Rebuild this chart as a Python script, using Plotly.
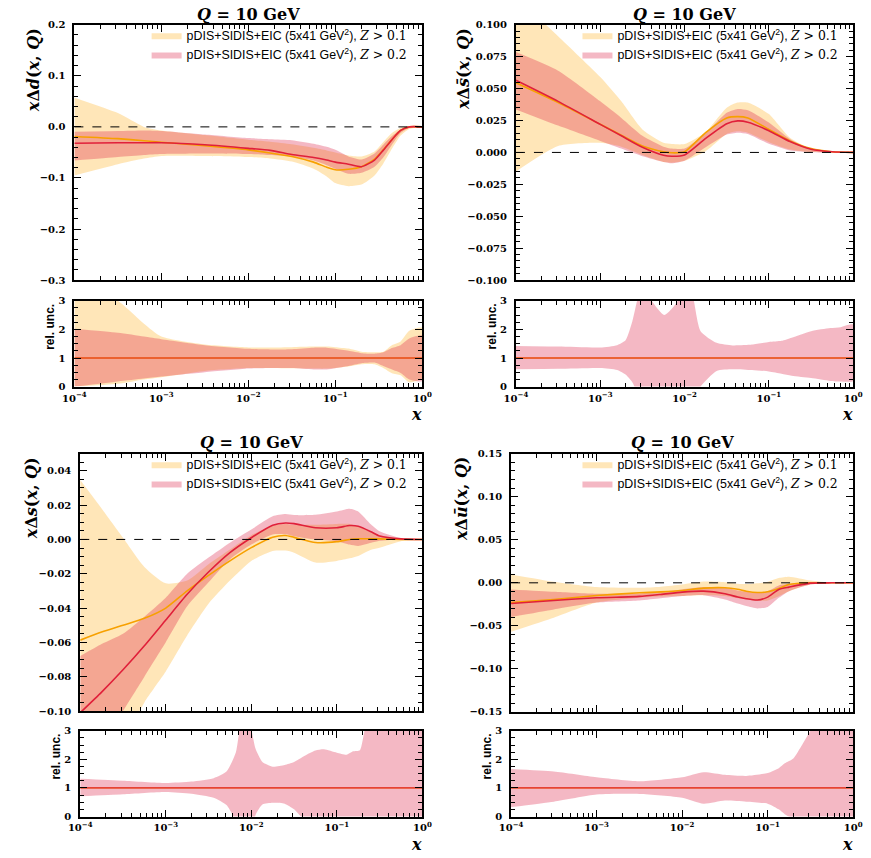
import numpy as np
import plotly.graph_objects as go

W, H = 871, 858

# ---------------- data (log10 x grids and values) ----------------
# Panel 1: x Delta d
LX_D = [-4, -3.5, -3.2, -3, -2.5, -2, -1.75, -1.5, -1.25, -1.1, -1.0, -0.85, -0.7, -0.55, -0.45, -0.35, -0.25, -0.15, 0]
D_Z1_C = [-0.0187, -0.023, -0.027, -0.030, -0.037, -0.045, -0.051, -0.058, -0.069, -0.079, -0.084, -0.083, -0.078, -0.063, -0.045, -0.025, -0.007, 0.0, 0.0]
D_Z1_HI = [0.057, 0.027, 0.0, -0.007, -0.016, -0.025, -0.029, -0.034, -0.041, -0.046, -0.050, -0.056, -0.058, -0.048, -0.030, -0.012, -0.002, 0.001, 0.0]
D_Z1_LO = [-0.095, -0.073, -0.062, -0.057, -0.057, -0.059, -0.062, -0.068, -0.082, -0.097, -0.110, -0.116, -0.113, -0.095, -0.072, -0.043, -0.017, -0.004, 0.0]
D_Z2_C = [-0.032, -0.031, -0.031, -0.031, -0.035, -0.042, -0.046, -0.054, -0.060, -0.065, -0.069, -0.073, -0.078, -0.065, -0.046, -0.025, -0.007, 0.0, 0.0]
D_Z2_HI = [-0.0095, -0.008, -0.007, -0.008, -0.015, -0.022, -0.024, -0.026, -0.033, -0.039, -0.045, -0.058, -0.064, -0.052, -0.035, -0.018, -0.005, 0.0, 0.0]
D_Z2_LO = [-0.066, -0.059, -0.055, -0.053, -0.052, -0.053, -0.055, -0.058, -0.066, -0.075, -0.082, -0.092, -0.090, -0.078, -0.060, -0.035, -0.012, -0.002, 0.0]
D_R1_HI = [3.8, 3.0, 2.2, 1.75, 1.47, 1.37, 1.37, 1.38, 1.40, 1.40, 1.38, 1.33, 1.22, 1.20, 1.22, 1.45, 1.58, 1.95, 2.05]
D_R1_LO = [0.0, 0.1, 0.25, 0.33, 0.55, 0.65, 0.65, 0.64, 0.63, 0.63, 0.65, 0.70, 0.78, 0.78, 0.65, 0.47, 0.40, 0.15, 0.30]
D_R2_HI = [2.02, 1.88, 1.75, 1.66, 1.45, 1.32, 1.30, 1.31, 1.36, 1.36, 1.32, 1.25, 1.17, 1.15, 1.20, 1.35, 1.45, 1.68, 1.78]
D_R2_LO = [0.0, 0.18, 0.28, 0.35, 0.50, 0.63, 0.65, 0.65, 0.60, 0.60, 0.64, 0.72, 0.82, 0.84, 0.72, 0.60, 0.48, 0.25, 0.20]

# Panel 2: x Delta sbar
LX_SB = [-4, -3.5, -3, -2.75, -2.5, -2.25, -2.15, -2, -1.75, -1.5, -1.37, -1.25, -1, -0.75, -0.5, -0.25, 0]
SB_Z1_C = [0.0545, 0.039, 0.022, 0.0135, 0.005, 0.0005, -0.0003, 0.0005, 0.0155, 0.027, 0.028, 0.027, 0.018, 0.009, 0.003, 0.0005, 0.0]
SB_Z1_HI = [0.122, 0.091, 0.059, 0.040, 0.018, 0.0075, 0.0065, 0.0065, 0.016, 0.035, 0.039, 0.039, 0.030, 0.0115, 0.003, 0.0008, 0.0]
SB_Z1_LO = [-0.015, 0.005, 0.0075, 0.0045, -0.002, -0.0075, -0.008, -0.0065, 0.001, 0.0145, 0.0165, 0.0155, 0.008, 0.0023, 0.0003, 0.0, 0.0]
SB_Z2_C = [0.0565, 0.040, 0.022, 0.013, 0.004, -0.0022, -0.003, -0.002, 0.011, 0.0225, 0.0247, 0.0237, 0.017, 0.0085, 0.0025, 0.0005, 0.0]
SB_Z2_HI = [0.0786, 0.064, 0.040, 0.027, 0.013, 0.0045, 0.003, 0.003, 0.015, 0.031, 0.034, 0.033, 0.0234, 0.0105, 0.0023, 0.0005, 0.0]
SB_Z2_LO = [0.0337, 0.021, 0.009, 0.003, -0.003, -0.0075, -0.0085, -0.0065, 0.004, 0.014, 0.0155, 0.0145, 0.0067, 0.0015, 0.0002, 0.0, 0.0]
RLX_SB = [-4, -3.5, -3, -2.8, -2.7, -2.62, -2.5, -2.39, -2.24, -2.08, -1.97, -1.89, -1.81, -1.62, -1.43, -1.2, -1, -0.85, -0.73, -0.5, -0.27, -0.15, 0]
SB_R2_HI = [1.42, 1.40, 1.37, 1.45, 1.62, 2.28, 3.6, 3.0, 2.5, 3.0, 4.0, 3.0, 1.94, 1.53, 1.44, 1.47, 1.56, 1.60, 1.71, 1.94, 2.05, 2.08, 2.17]
SB_R2_LO = [0.61, 0.62, 0.65, 0.58, 0.42, 0.15, -0.6, -1.0, -0.5, -1.0, -1.5, -0.6, 0.0, 0.55, 0.61, 0.58, 0.53, 0.45, 0.38, 0.30, 0.20, 0.18, 0.20]

# Panel 3: x Delta s
LX_S = [-4, -3.75, -3.5, -3.25, -3, -2.75, -2.5, -2.25, -2, -1.75, -1.6, -1.5, -1.25, -1, -0.85, -0.75, -0.6, -0.5, -0.25, 0]
S_Z1_C = [-0.0587, -0.054, -0.050, -0.046, -0.040, -0.030, -0.021, -0.0125, -0.0048, 0.0013, 0.0023, 0.0012, -0.0018, -0.0013, 0.0, 0.0004, 0.0004, 0.0003, 0.0, 0.0]
S_Z1_HI = [0.0346, 0.018, 0.001, -0.016, -0.0256, -0.024, -0.0144, -0.0058, 0.0025, 0.008, 0.009, 0.0085, 0.0085, 0.009, 0.009, 0.0075, 0.004, 0.0025, 0.0005, 0.0]
S_Z1_LO = [-0.17, -0.145, -0.118, -0.095, -0.077, -0.056, -0.0375, -0.024, -0.0125, -0.0067, -0.0065, -0.0077, -0.0135, -0.0125, -0.011, -0.0096, -0.006, -0.0048, -0.001, 0.0]
S_Z2_C = [-0.101, -0.089, -0.076, -0.062, -0.047, -0.032, -0.019, -0.0077, 0.001, 0.0083, 0.0096, 0.0092, 0.0068, 0.0068, 0.0081, 0.0077, 0.0045, 0.002, 0.0003, 0.0]
S_Z2_HI = [-0.068, -0.061, -0.055, -0.045, -0.034, -0.020, -0.0106, -0.0019, 0.0058, 0.0135, 0.0148, 0.0142, 0.0144, 0.0163, 0.0179, 0.0163, 0.0087, 0.0048, 0.0008, 0.0]
S_Z2_LO = [-0.135, -0.118, -0.100, -0.080, -0.060, -0.039, -0.025, -0.0115, -0.0029, 0.0029, 0.003, 0.0019, 0.0, -0.001, -0.003, -0.0038, -0.002, -0.0008, 0.0, 0.0]
RLX_S = [-4, -3.5, -3, -2.7, -2.44, -2.29, -2.18, -2.1, -2.03, -1.95, -1.87, -1.75, -1.61, -1.5, -1.38, -1.25, -1.15, -1.0, -0.885, -0.81, -0.73, -0.676, -0.6, -0.3, 0]
S_R2_HI = [1.32, 1.25, 1.17, 1.22, 1.34, 1.57, 2.25, 3.6, 3.4, 2.37, 1.91, 1.74, 1.80, 1.91, 2.12, 2.31, 2.35, 2.23, 2.16, 2.28, 2.32, 3.0, 3.8, 4.0, 4.0]
S_R2_LO = [0.71, 0.78, 0.86, 0.80, 0.66, 0.40, -0.2, -1.6, -1.4, 0.05, 0.42, 0.48, 0.45, 0.25, -0.12, -0.30, -0.35, -0.25, -0.20, -0.30, -0.35, -1.0, -1.8, -2.0, -2.0]

# Panel 4: x Delta ubar
LX_UB = [-4, -3.5, -3, -2.5, -2.25, -2, -1.75, -1.5, -1.35, -1.25, -1.12, -1, -0.87, -0.75, -0.5, -0.25, 0]
UB_Z1_C = [-0.023, -0.0193, -0.0147, -0.0116, -0.0105, -0.0089, -0.0062, -0.0058, -0.0075, -0.0097, -0.0112, -0.0104, -0.0066, -0.002, 0.0, 0.0, 0.0]
UB_Z1_HI = [0.0097, 0.0012, -0.005, -0.0058, -0.0045, -0.0019, 0.0015, 0.0008, -0.001, -0.0015, -0.0005, 0.0012, 0.0055, 0.007, 0.0027, 0.0003, 0.0]
UB_Z1_LO = [-0.0568, -0.0405, -0.023, -0.0174, -0.016, -0.0154, -0.0145, -0.0154, -0.018, -0.0193, -0.021, -0.0205, -0.0155, -0.0097, -0.002, -0.0003, 0.0]
UB_Z2_C = [-0.024, -0.0205, -0.0174, -0.0158, -0.0135, -0.0108, -0.0097, -0.0127, -0.0165, -0.0185, -0.020, -0.0166, -0.0077, -0.005, -0.0004, 0.0, 0.0]
UB_Z2_HI = [-0.0077, -0.0104, -0.0127, -0.0124, -0.0105, -0.0077, -0.005, -0.0058, -0.009, -0.0105, -0.0116, -0.0097, -0.003, -0.0012, 0.0008, 0.0002, 0.0]
UB_Z2_LO = [-0.0398, -0.031, -0.023, -0.0205, -0.018, -0.0154, -0.0143, -0.0193, -0.024, -0.027, -0.0297, -0.028, -0.0174, -0.0097, -0.0019, -0.0002, 0.0]
RLX_UB = [-4, -3.5, -3, -2.5, -2, -1.75, -1.5, -1.25, -1, -0.87, -0.8, -0.7, -0.6, -0.5, -0.3, 0]
UB_R2_HI = [1.66, 1.57, 1.37, 1.23, 1.37, 1.55, 1.46, 1.42, 1.52, 1.69, 1.86, 2.03, 2.49, 3.0, 4.0, 5.0]
UB_R2_LO = [0.33, 0.52, 0.77, 0.79, 0.66, 0.45, 0.56, 0.52, 0.45, 0.25, 0.08, -0.1, -0.5, -1.0, -2.0, -3.0]

LEGEND_Z1 = "pDIS+SIDIS+EIC (5x41 GeV<sup>2</sup>), <span style='font-family:DejaVu Serif'><i>Z</i> &gt; 0.1</span>"
LEGEND_Z2 = "pDIS+SIDIS+EIC (5x41 GeV<sup>2</sup>), <span style='font-family:DejaVu Serif'><i>Z</i> &gt; 0.2</span>"
TITLE = "<b><i>Q</i> = 10 GeV</b>"
REL_TITLE = "<b>rel. unc.</b>"
X_TITLE = "<b><i>x</i></b>"
XTICKS = [1e-4, 1e-3, 1e-2, 1e-1, 1]
XTICKTEXT = ["10<sup>\u22124</sup>", "10<sup>\u22123</sup>", "10<sup>\u22122</sup>", "10<sup>\u22121</sup>", "10<sup>0</sup>"]

# ---------------- styles ----------------
C_OR_FILL = "rgba(255,165,0,0.28)"
C_RD_FILL = "rgba(220,20,60,0.30)"
C_OR_LINE = "#f7a000"
C_RD_LINE = "#e0203a"
SERIF = "DejaVu Serif"
SANS = "Liberation Sans"

panels = [
    dict(lx=LX_D, z1=(D_Z1_C, D_Z1_LO, D_Z1_HI), z2=(D_Z2_C, D_Z2_LO, D_Z2_HI),
         rlx1=LX_D, r1=(D_R1_LO, D_R1_HI), rlx2=LX_D, r2=(D_R2_LO, D_R2_HI),
         xpx=(64, 421), main=(19, 278), rel=(299, 386), yr=[-0.3, 0.2], dt=0.1, mdt=0.02, fmt=".1f",
         ytitle="<b><i>x</i>\u0394<i>d</i>(<i>x</i>, <i>Q</i>)</b>", tpx=9, ytx=22, rtx=39),
    dict(lx=LX_SB, z1=(SB_Z1_C, SB_Z1_LO, SB_Z1_HI), z2=(SB_Z2_C, SB_Z2_LO, SB_Z2_HI),
         rlx1=None, r1=None, rlx2=RLX_SB, r2=(SB_R2_LO, SB_R2_HI),
         xpx=(517, 863), main=(19, 278), rel=(299, 386), yr=[-0.1, 0.1], dt=0.025, mdt=0.005, fmt=".3f",
         ytitle="<b><i>x</i>\u0394<i>s\u0304</i>(<i>x</i>, <i>Q</i>)</b>", tpx=9, ytx=463, rtx=492),
    dict(lx=LX_S, z1=(S_Z1_C, S_Z1_LO, S_Z1_HI), z2=(S_Z2_C, S_Z2_LO, S_Z2_HI),
         rlx1=None, r1=None, rlx2=RLX_S, r2=(S_R2_LO, S_R2_HI),
         xpx=(70, 421), main=(454, 715), rel=(735, 822), yr=[-0.1, 0.05], dt=0.02, mdt=0.005, fmt=".2f",
         ytitle="<b><i>x</i>\u0394<i>s</i>(<i>x</i>, <i>Q</i>)</b>", tpx=443, ytx=20, rtx=45),
    dict(lx=LX_UB, z1=(UB_Z1_C, UB_Z1_LO, UB_Z1_HI), z2=(UB_Z2_C, UB_Z2_LO, UB_Z2_HI),
         rlx1=None, r1=None, rlx2=RLX_UB, r2=(UB_R2_LO, UB_R2_HI),
         xpx=(512, 863), main=(454, 716), rel=(735, 822), yr=[-0.15, 0.15], dt=0.05, mdt=0.01, fmt=".2f",
         ytitle="<b><i>x</i>\u0394<i>\u016b</i>(<i>x</i>, <i>Q</i>)</b>", tpx=443, ytx=461, rtx=487),
]


def fx(px):
    return px / W


def fy(py):
    return 1 - py / H


def sid(n):
    return "" if n == 1 else str(n)


minor_x = [k * 10.0 ** e for e in range(-4, 0) for k in range(2, 10)]


def xaxis_style(dom, show_labels, anchor):
    return dict(type="log", range=[-4, 0], domain=dom, anchor=anchor,
                showline=True, linecolor="black", linewidth=1.8, mirror="allticks",
                ticks="inside", ticklen=7, tickwidth=1.3, tickcolor="black",
                tickmode="array", tickvals=XTICKS, ticktext=XTICKTEXT,
                showticklabels=show_labels, showgrid=False, zeroline=False,
                ticklabelstandoff=1,
                tickfont=dict(family=SERIF, size=10, color="black", weight="bold"),
                minor=dict(tickmode="array", tickvals=minor_x, ticks="inside", ticklen=4,
                           tickwidth=1, tickcolor="black", showgrid=False))


def yaxis_style(dom, rng, dt, mdt, fmt, anchor):
    return dict(range=rng, domain=dom, anchor=anchor,
                showline=True, linecolor="black", linewidth=1.8, mirror="allticks",
                ticks="inside", ticklen=7, tickwidth=1.3, tickcolor="black",
                tick0=0, dtick=dt, tickformat=fmt, showgrid=False, zeroline=False,
                ticklabelstandoff=5,
                tickfont=dict(family=SERIF, size=10, color="black", weight="bold"),
                minor=dict(tick0=0, dtick=mdt, ticks="inside", ticklen=4, tickwidth=1,
                           tickcolor="black", showgrid=False))


def band(xs_log, lo, hi, color, name, xa, ya, legend, showlegend):
    xs = [10.0 ** v for v in xs_log]
    return go.Scatter(x=xs + xs[::-1], y=list(hi) + list(lo)[::-1], fill="toself",
                      fillcolor=color, line=dict(width=0, shape="spline", smoothing=0.6),
                      mode="lines", name=name, xaxis=xa, yaxis=ya, legend=legend,
                      showlegend=showlegend, hoverinfo="skip")


def curve(xs_log, ys, color, xa, ya, width=1.6):
    xs = [10.0 ** v for v in xs_log]
    return go.Scatter(x=xs, y=ys, mode="lines",
                      line=dict(color=color, width=width, shape="spline", smoothing=0.6),
                      xaxis=xa, yaxis=ya, showlegend=False, hoverinfo="skip")


def label(text, x, y, size, family, xanchor="center", yanchor="middle", angle=0):
    return dict(text=text, xref="paper", yref="paper", x=x, y=y, xanchor=xanchor, yanchor=yanchor,
                showarrow=False, textangle=angle, font=dict(family=family, size=size, color="black"))


fig = go.Figure()
layout = dict(width=W, height=H, margin=dict(l=0, r=0, t=0, b=0),
              plot_bgcolor="white", paper_bgcolor="white", annotations=[], shapes=[])

for i, p in enumerate(panels):
    im, ir = sid(2 * i + 1), sid(2 * i + 2)
    xm, ym = f"x{im}", f"y{im}"
    xr, yr_ = f"x{ir}", f"y{ir}"
    leg = "legend" if i == 0 else f"legend{i + 1}"
    xdom = [fx(p["xpx"][0]), fx(p["xpx"][1])]
    mdom = [fy(p["main"][1]), fy(p["main"][0])]
    rdom = [fy(p["rel"][1]), fy(p["rel"][0])]

    c1, lo1, hi1 = p["z1"]
    c2, lo2, hi2 = p["z2"]
    fig.add_trace(band(p["lx"], lo1, hi1, C_OR_FILL, LEGEND_Z1, xm, ym, leg, True))
    fig.add_trace(band(p["lx"], lo2, hi2, C_RD_FILL, LEGEND_Z2, xm, ym, leg, True))
    fig.add_trace(curve(p["lx"], c1, C_OR_LINE, xm, ym))
    fig.add_trace(curve(p["lx"], c2, C_RD_LINE, xm, ym))

    if p["r1"] is not None:
        fig.add_trace(band(p["rlx1"], p["r1"][0], p["r1"][1], C_OR_FILL, "", xr, yr_, leg, False))
    fig.add_trace(band(p["rlx2"], p["r2"][0], p["r2"][1], C_RD_FILL, "", xr, yr_, leg, False))
    fig.add_trace(curve([-4, 0], [1, 1], C_OR_LINE, xr, yr_, 1.4))
    fig.add_trace(curve([-4, 0], [1, 1], C_RD_LINE, xr, yr_, 1.2))

    layout[f"xaxis{im}"] = xaxis_style(xdom, False, ym)
    layout[f"xaxis{ir}"] = xaxis_style(xdom, True, yr_)
    layout[f"yaxis{im}"] = yaxis_style(mdom, p["yr"], p["dt"], p["mdt"], p["fmt"], xm)
    layout[f"yaxis{ir}"] = yaxis_style(rdom, [0, 3], 1, 0.25, "d", xr)

    layout["shapes"].append(dict(type="line", xref=f"{xm} domain", x0=0, x1=1, yref=ym, y0=0, y1=0,
                                 line=dict(color="black", width=1, dash="dash"), layer="above"))
    layout[leg] = dict(x=fx(p["xpx"][1] - 10), y=fy(p["main"][0] - 4), xanchor="right", yanchor="top",
                       bgcolor="rgba(0,0,0,0)", font=dict(family=SANS, size=12.4, color="black"),
                       tracegroupgap=0, itemwidth=30)
    ann = layout["annotations"]
    ann.append(label(TITLE, fx((p["xpx"][0] + p["xpx"][1]) / 2), fy(p["tpx"]), 16, SERIF))
    ann.append(label(X_TITLE, fx(p["xpx"][1] - 6), fy(p["rel"][1] + 28), 16, SERIF))
    ann.append(label(p["ytitle"], fx(p["ytx"]), fy(p["main"][0] + 1), 16, SERIF,
                     yanchor="top", angle=-90))
    ann.append(label(REL_TITLE, fx(p["rtx"]), fy(p["rel"][0] + 1), 12, SANS,
                     yanchor="top", angle=-90))

fig.update_layout(**layout)
fig.write_html("out.html")
